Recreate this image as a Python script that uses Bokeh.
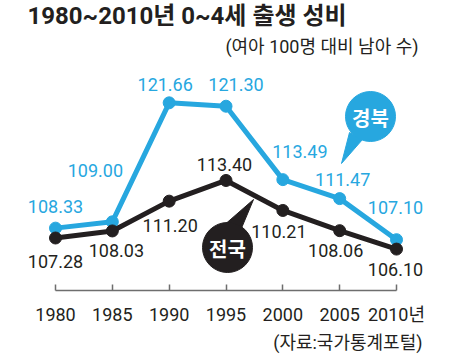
from bokeh.plotting import figure
from bokeh.models import Range1d, FixedTicker, ColumnDataSource, Title, Label
from bokeh.core.properties import value
from bokeh.embed import file_html
from bokeh.resources import INLINE

years = [1980, 1985, 1990, 1995, 2000, 2005, 2010]
gyeongbuk = [108.33, 109.00, 121.66, 121.30, 113.49, 111.47, 107.10]
national = [107.28, 108.03, 111.20, 113.40, 110.21, 108.06, 106.10]
tick_labels = ["1980", "1985", "1990", "1995", "2000", "2005", "2010년"]

title_text = "1980~2010년 0~4세 출생 성비"
subtitle_text = "(여아 100명 대비 남아 수)"
source_text = "(자료:국가통계포털)"
name_gb = "경북"
name_nat = "전국"

BLUE = "#27A7DF"
BLACK = "#231F20"
GRAY = "#6E6E6E"
NARROW = "Roboto, Noto Sans CJK KR"
KR = "Noto Sans CJK KR"

W, H = 442, 356
BOTTOM = 66
X0, X1 = 1975.161, 2014.046
Y0, Y1 = 101.695, 132.546

p = figure(width=W, height=H, output_backend="svg", toolbar_location=None,
           x_range=Range1d(X0, X1), y_range=Range1d(Y0, Y1),
           y_axis_location=None, min_border_left=0, min_border_right=0,
           min_border_top=0, min_border_bottom=BOTTOM)
p.outline_line_color = None
p.xgrid.visible = False
p.ygrid.visible = False
p.background_fill_color = "white"
p.border_fill_color = "white"

fw = W
fh = H - BOTTOM


def px(page_x, page_y):
    return (X0 + page_x / fw * (X1 - X0), Y1 - page_y / fh * (Y1 - Y0))


ax = p.xaxis[0]
ax.ticker = FixedTicker(ticks=years)
ax.bounds = (years[0], years[-1])
ax.major_label_overrides = {y: t for y, t in zip(years, tick_labels)}
ax.minor_tick_line_color = None
ax.major_tick_in = 6
ax.major_tick_out = 0
ax.axis_line_color = GRAY
ax.axis_line_width = 1.5
ax.major_tick_line_color = GRAY
ax.major_tick_line_width = 1.5
ax.major_label_text_font = NARROW
ax.major_label_text_font_size = "18px"
ax.major_label_text_color = BLACK
ax.major_label_standoff = 13

# lines
p.line(years, gyeongbuk, line_color=BLUE, line_width=5, line_join="round")
p.scatter(years, gyeongbuk, size=12, fill_color=BLUE, line_color=BLUE)
p.line(years, national, line_color=BLACK, line_width=5, line_join="round")
p.scatter(years, national, size=12, fill_color=BLACK, line_color=BLACK)

gb_dx = [0, -17, -4, 10, 17, 3, -1]
gb_dy = [-21.6, -51, -18, -22, -28, -19, -32]
nat_dx = [0, 4, 1, -1.5, -4, -4, -1]
nat_dy = [23.5, 20, 24, -16, 21, 20, 20]

src_gb = ColumnDataSource(dict(x=years, y=gyeongbuk,
                               t=["%.2f" % v for v in gyeongbuk],
                               dx=gb_dx, dy=gb_dy))
src_nat = ColumnDataSource(dict(x=years, y=national,
                                t=["%.2f" % v for v in national],
                                dx=nat_dx, dy=nat_dy))
for src, col in ((src_gb, BLUE), (src_nat, BLACK)):
    p.text(x="x", y="y", text="t", x_offset="dx", y_offset="dy", source=src,
           text_font=value(NARROW), text_font_size="18px", text_color=col,
           text_align="center", text_baseline="middle")

# callout bubbles
def bubble(cx, cy, tip, b1, b2, color, label):
    tx, ty = zip(*[px(*tip), px(*b1), px(*b2)])
    p.patch(list(tx), list(ty), fill_color=color, line_color=color)
    bx, by = px(cx, cy)
    p.scatter([bx], [by], size=50, fill_color=color, line_color=color)
    p.text([bx], [by], text=[label], text_font=value(KR), text_font_size="20px",
           text_font_style="bold", text_color="white", text_align="center",
           text_baseline="middle", y_offset=1)

bubble(370, 116, (341, 163), (349, 132), (362, 139), BLUE, name_gb)
bubble(227, 247, (253, 199), (222, 226), (240, 230), BLACK, name_nat)

# texts
tx, ty = px(27, 15)
p.add_layout(Label(x=tx, y=ty, text=title_text, text_font=NARROW,
                   text_font_size="24px", text_font_style="bold",
                   text_color=BLACK, text_align="left", text_baseline="middle"))
tx, ty = px(418, 46)
p.add_layout(Label(x=tx, y=ty, text=subtitle_text, text_font=NARROW,
                   text_font_size="18px", text_color=BLACK,
                   text_align="right", text_baseline="middle"))
p.add_layout(Title(text=source_text, text_font=NARROW, text_font_size="18px",
                   text_font_style="normal", text_color=BLACK, align="right",
                   offset=20, standoff=5), "below")

open("out.html", "w").write(file_html(p, INLINE))
